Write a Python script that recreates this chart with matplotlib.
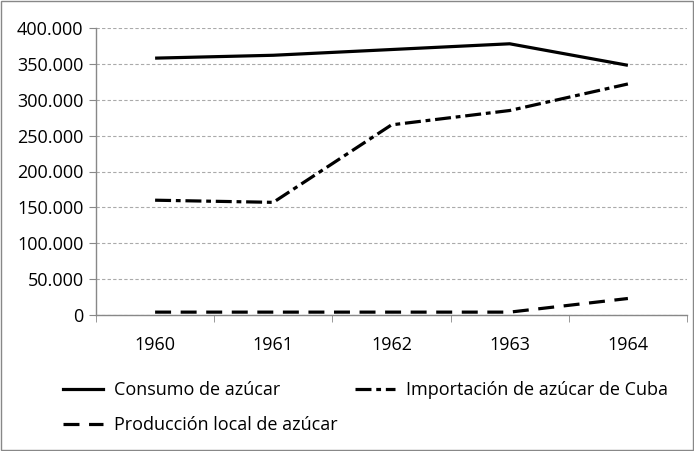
import numpy as np
import matplotlib
matplotlib.use("Agg")
import matplotlib.pyplot as plt
from matplotlib.ticker import FuncFormatter
from matplotlib.lines import Line2D

# Datos (toneladas)
years = ["1960", "1961", "1962", "1963", "1964"]
consumo = [358000, 362000, 370000, 378000, 348000]
importacion = [160000, 157000, 265000, 285000, 322000]
produccion = [4000, 4000, 4000, 4000, 23000]

plt.rcParams['font.family'] = ['Open Sans', 'DejaVu Sans']

fig = plt.figure(figsize=(6.94, 4.51), dpi=100)
ax = fig.add_axes([96 / 694, 1 - 315 / 451, 591 / 694, 287 / 451])

x = np.arange(len(years))
dash_dot = (5, 1.5, 1.5, 1.5)
dashed = (5, 3)
ax.plot(x, consumo, color='black', lw=2.3, solid_capstyle='butt')
ax.plot(x, importacion, color='black', lw=2.3, dashes=dash_dot)
ax.plot(x, produccion, color='black', lw=2.3, dashes=dashed)

ax.set_xlim(-0.5, len(years) - 0.5)
ax.set_ylim(0, 400000)
ax.set_yticks(np.arange(0, 400001, 50000))
ax.yaxis.set_major_formatter(FuncFormatter(
    lambda v, p: '0' if v == 0 else f"{int(v):,}".replace(',', '.')))
ax.set_xticks(x)
ax.set_xticklabels(years)
ax.set_xticks(np.arange(-0.5, len(years)), minor=True)
ax.tick_params(axis='x', which='major', length=0, pad=15, labelsize=13)
ax.tick_params(axis='x', which='minor', length=5, color='#888888')
ax.tick_params(axis='y', length=5, color='#888888', labelsize=13, pad=4)

ax.grid(axis='y', color='#aaaaaa', ls=(0, (3, 2)), lw=0.8)
ax.set_axisbelow(True)
for s in ['top', 'right']:
    ax.spines[s].set_visible(False)
for s in ['left', 'bottom']:
    ax.spines[s].set_color('#888888')
    ax.spines[s].set_linewidth(1)

# orden por columnas: col 1 = consumo, producción; col 2 = importación
handles = [
    Line2D([], [], color='black', lw=2.3),
    Line2D([], [], color='black', lw=2.3, dashes=dashed),
    Line2D([], [], color='black', lw=2.3, dashes=dash_dot),
]
labels = ["Consumo de azúcar", "Producción local de azúcar",
          "Importación de azúcar de Cuba"]
fig.legend(handles, labels, loc='upper left', bbox_to_anchor=(47 / 694, 1 - 365 / 451),
           ncol=2, frameon=False, fontsize=13, handlelength=2.2,
           columnspacing=1.0, labelspacing=0.95, handletextpad=0.6)

fig.patches.append(plt.Rectangle((0.002, 0.002), 0.996, 0.996, transform=fig.transFigure,
                                 fill=False, edgecolor='#888888', lw=1))

fig.savefig('out.png', dpi=100)
